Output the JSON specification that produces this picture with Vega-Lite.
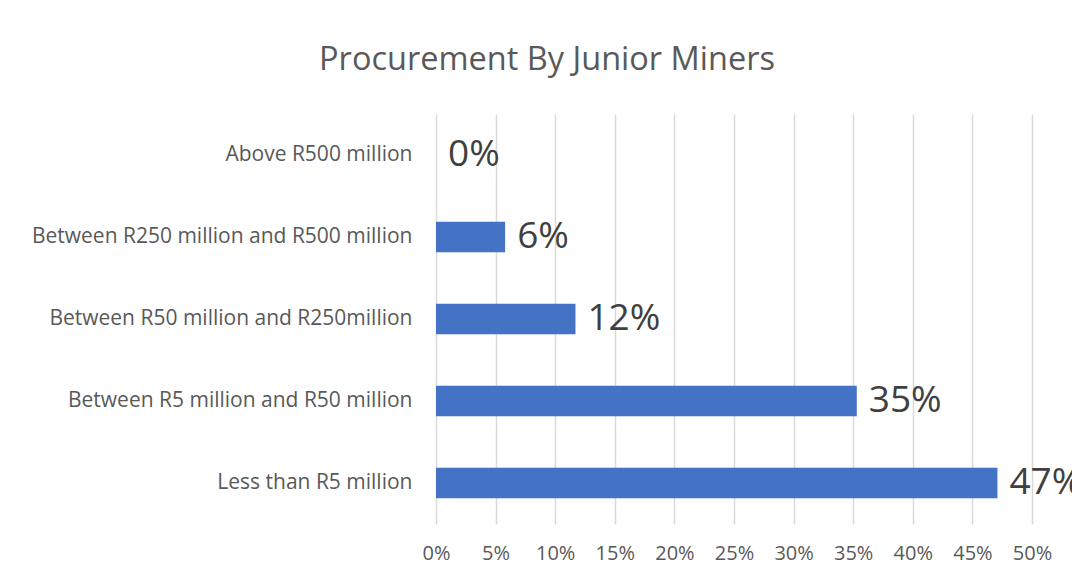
{
  "$schema": "https://vega.github.io/schema/vega-lite/v6.json",
  "autosize": {"type": "none"},
  "width": 596,
  "height": 410,
  "padding": {"left": 436, "top": 114, "right": 40, "bottom": 57},
  "background": "white",
  "title": {
    "text": "Procurement By Junior Miners",
    "font": "Open Sans",
    "fontSize": 32.5,
    "fontWeight": "normal",
    "color": "#595959",
    "anchor": "middle",
    "dx": -187,
    "offset": 38
  },
  "data": {
    "values": [
      {"category": "Above R500 million", "share": 0.0},
      {"category": "Between R250 million and R500 million", "share": 0.058},
      {"category": "Between R50 million and R250million", "share": 0.117},
      {"category": "Between R5 million and R50 million", "share": 0.353},
      {"category": "Less than R5 million", "share": 0.471}
    ]
  },
  "encoding": {
    "y": {
      "field": "category",
      "type": "nominal",
      "sort": null,
      "title": null,
      "scale": {"paddingInner": 0.63, "paddingOuter": 0.315},
      "axis": {
        "domain": false,
        "ticks": false,
        "labelPadding": 24,
        "labelFont": "Open Sans",
        "labelFontSize": 21,
        "labelColor": "#595959",
        "labelLimit": 500
      }
    },
    "x": {
      "field": "share",
      "type": "quantitative",
      "title": null,
      "scale": {"domain": [0, 0.5]},
      "axis": {
        "values": [0, 0.05, 0.1, 0.15, 0.2, 0.25, 0.3, 0.35, 0.4, 0.45, 0.5],
        "format": ".0%",
        "domain": false,
        "ticks": false,
        "labelFlush": false,
        "labelPadding": 19,
        "labelFont": "Open Sans",
        "labelFontSize": 20,
        "labelColor": "#595959",
        "grid": true,
        "gridColor": "#d9d9d9",
        "gridWidth": 1.5
      }
    }
  },
  "layer": [
    {"mark": {"type": "bar", "color": "#4472C4"}},
    {
      "mark": {"type": "text", "align": "left", "baseline": "middle", "dx": 12, "font": "Open Sans", "fontSize": 37, "color": "#404040"},
      "encoding": {"text": {"field": "share", "type": "quantitative", "format": ".0%"}}
    }
  ],
  "config": {"view": {"stroke": null}}
}
